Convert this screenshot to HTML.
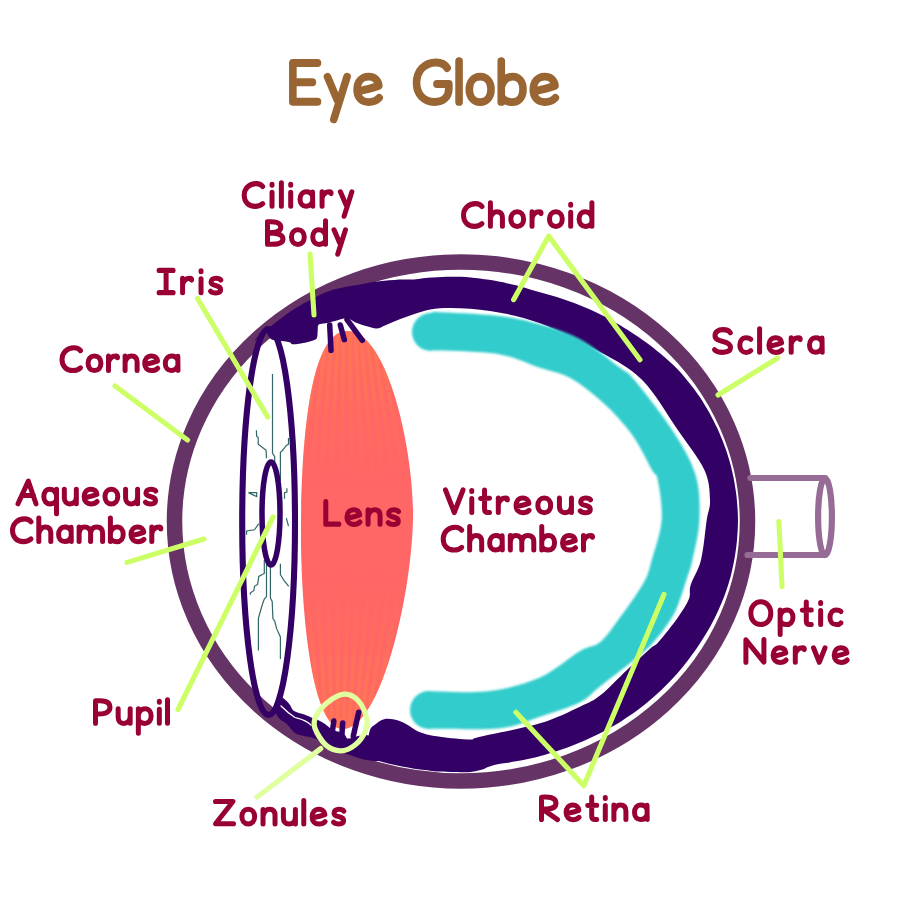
<!DOCTYPE html>
<html><head><meta charset="utf-8"><style>
html,body{margin:0;padding:0;background:#fff;width:900px;height:900px;overflow:hidden}
svg{display:block}
.t{font-family:"Liberation Sans",sans-serif;font-weight:normal;fill:#990033;stroke:#990033;stroke-width:1.9px;stroke-linejoin:round;font-size:39px}
</style></head><body>
<svg width="900" height="900" viewBox="0 0 900 900">
<defs>
<filter id="sblur" x="-20%" y="-20%" width="140%" height="140%"><feGaussianBlur stdDeviation="0.9"/></filter>
<filter id="blur" x="-10%" y="-10%" width="120%" height="120%"><feGaussianBlur stdDeviation="1"/></filter>
<clipPath id="lensclip"><path d="M 347 331 C 390 331, 415 460, 413 520 C 411 600, 380 729, 343 729 C 310 729, 300 600, 301 520 C 302 440, 310 331, 347 331 Z"/></clipPath>
<linearGradient id="lmg" x1="0" y1="331" x2="0" y2="729" gradientUnits="userSpaceOnUse">
<stop offset="0" stop-color="#fff" stop-opacity="0.8"/><stop offset="0.1" stop-color="#fff" stop-opacity="0.7"/><stop offset="0.4" stop-color="#fff" stop-opacity="0"/><stop offset="0.6" stop-color="#fff" stop-opacity="0"/><stop offset="0.9" stop-color="#fff" stop-opacity="0.7"/><stop offset="1" stop-color="#fff" stop-opacity="0.8"/>
</linearGradient>
<mask id="lensmask" maskUnits="userSpaceOnUse" x="250" y="300" width="200" height="460"><rect x="250" y="300" width="200" height="460" fill="url(#lmg)"/></mask>
<linearGradient id="lensg" x1="0" y1="0" x2="0" y2="1">
<stop offset="0" stop-color="#ff7a55"/><stop offset="0.3" stop-color="#ff6a5f"/><stop offset="0.5" stop-color="#ff6666"/><stop offset="0.7" stop-color="#ff6a5f"/><stop offset="1" stop-color="#ff7a55"/>
</linearGradient>
</defs>
<g fill="none" stroke="#996633" stroke-width="4.471" stroke-linecap="round" stroke-linejoin="round"><path transform="translate(288.60 106.3) scale(1.7000 1.7835)" d="M 17 -24.3 L 2.5 -24.3 L 2.5 -2.6 L 17 -2.6 M 2.5 -13.5 L 14 -13.5"/><path transform="translate(323.25 106.3) scale(1.7000 1.7400)" d="M 2.5 -17 L 8.3 -3.5 M 14 -17 L 6.2 7.5"/><path transform="translate(352.80 106.3) scale(1.7000 1.7400)" d="M 3 -8.6 C 7 -9.4 12 -10.6 15.3 -11.8 C 15 -15.3 12.5 -17.1 9.3 -17.1 C 5 -17.1 2.5 -13.8 2.5 -9.5 C 2.5 -5 5.3 -2.4 9.3 -2.4 C 11.8 -2.4 14 -3.2 15.5 -4.8"/></g><g fill="none" stroke="#996633" stroke-width="4.471" stroke-linecap="round" stroke-linejoin="round"><path transform="translate(412.30 106.3) scale(1.7000 1.7835)" d="M 20.5 -21.5 C 19 -23.8 16.5 -24.6 14 -24.6 C 7 -24.6 2.5 -19.6 2.5 -13.2 C 2.5 -6.6 7 -2.4 13 -2.4 C 18 -2.4 21.5 -5 21.5 -10 L 21.5 -12.5 L 14.5 -12.5"/><path transform="translate(454.82 106.3) scale(1.7000 1.7400)" d="M 2.5 -26 L 2.5 -2.5"/><path transform="translate(465.04 106.3) scale(1.7000 1.7400)" d="M 8.9 -17.1 C 12.8 -17.1 15.3 -14 15.3 -9.8 C 15.3 -5.5 12.8 -2.4 8.9 -2.4 C 5 -2.4 2.5 -5.5 2.5 -9.8 C 2.5 -14 5 -17.1 8.9 -17.1 Z"/><path transform="translate(497.02 106.3) scale(1.7000 1.7400)" d="M 2.5 -26 L 2.5 -2.5 M 2.5 -11 C 3.5 -15 6 -17.1 9.3 -17.1 C 13 -17.1 15.3 -14 15.3 -9.7 C 15.3 -5 12.5 -2.4 9 -2.4 C 6 -2.4 3.5 -3.6 2.5 -6"/><path transform="translate(529.00 106.3) scale(1.7000 1.7400)" d="M 3 -8.6 C 7 -9.4 12 -10.6 15.3 -11.8 C 15 -15.3 12.5 -17.1 9.3 -17.1 C 5 -17.1 2.5 -13.8 2.5 -9.5 C 2.5 -5 5.3 -2.4 9.3 -2.4 C 11.8 -2.4 14 -3.2 15.5 -4.8"/></g>
<ellipse cx="461" cy="521.5" rx="286.5" ry="259.5" fill="none" stroke="#663366" stroke-width="15.5"/>
<g fill="none" stroke="#966c96" stroke-width="6.2" stroke-linecap="round">
<line x1="750.5" y1="478" x2="825" y2="478"/>
<line x1="747.5" y1="555" x2="825" y2="555"/>
<ellipse cx="825" cy="516.8" rx="6.9" ry="38.4"/>
</g>
<path d="M 266.0 326.0 C 264.1 328.5 255.3 339.5 254.5 340.9 C 253.8 342.3 259.2 336.5 261.5 334.4 C 263.9 332.2 266.3 330.1 268.8 328.1 C 271.2 326.0 273.7 324.0 276.3 322.0 C 278.8 320.0 281.4 318.1 284.0 316.2 C 286.6 314.3 289.2 312.4 291.9 310.6 C 294.6 308.8 297.4 307.1 300.2 305.4 C 303.0 303.8 305.8 302.2 308.7 300.7 C 311.6 299.2 314.5 297.7 317.4 296.2 C 320.4 294.8 323.3 293.3 326.3 292.0 C 329.4 290.8 332.5 289.8 335.7 288.9 C 338.9 288.1 342.3 287.6 345.6 286.9 C 348.9 286.3 352.2 285.9 355.5 285.3 C 358.7 284.7 361.9 284.0 365.1 283.4 C 368.3 282.8 371.5 282.2 374.8 281.8 C 378.0 281.3 381.2 281.0 384.5 280.7 C 387.7 280.4 391.0 280.1 394.2 279.9 C 397.5 279.8 400.7 279.6 404.0 279.6 C 407.2 279.5 410.5 279.7 413.6 279.5 C 416.8 279.3 419.9 278.7 423.1 278.3 C 426.2 278.0 429.4 277.7 432.5 277.5 C 435.7 277.3 438.9 277.1 442.0 276.9 C 445.2 276.8 448.3 276.7 451.5 276.7 C 454.7 276.7 457.8 276.6 461.0 276.8 C 464.2 276.9 467.3 277.2 470.5 277.5 C 473.6 277.8 476.7 278.1 479.9 278.5 C 483.0 278.9 486.1 279.4 489.2 279.8 C 492.3 280.3 495.4 280.9 498.5 281.5 C 501.6 282.0 504.6 282.7 507.7 283.4 C 510.7 284.0 513.8 284.8 516.8 285.6 C 519.8 286.3 522.8 287.1 525.7 288.0 C 528.7 288.9 531.7 289.9 534.6 290.8 C 537.6 291.6 540.5 292.5 543.5 293.3 C 546.4 294.2 549.4 294.9 552.4 295.8 C 555.3 296.6 558.3 297.5 561.2 298.5 C 564.1 299.4 567.0 300.4 569.9 301.5 C 572.8 302.5 575.7 303.6 578.5 304.8 C 581.4 305.9 584.2 307.1 587.0 308.3 C 589.8 309.5 592.6 310.8 595.4 312.1 C 598.1 313.4 600.9 314.8 603.6 316.1 C 606.4 317.5 609.1 318.9 611.7 320.4 C 614.4 321.9 617.1 323.4 619.7 324.9 C 622.3 326.5 624.9 328.1 627.4 329.7 C 630.0 331.4 632.5 333.1 635.0 334.8 C 637.6 336.5 640.1 338.1 642.6 339.9 C 645.1 341.6 647.5 343.4 650.0 345.2 C 652.4 347.1 654.8 348.9 657.1 350.9 C 659.5 352.8 661.8 354.7 664.1 356.7 C 666.4 358.7 668.6 360.7 670.8 362.8 C 673.0 364.8 675.3 366.9 677.3 369.1 C 679.4 371.3 681.4 373.5 683.4 375.8 C 685.3 378.1 687.2 380.4 689.1 382.7 C 691.0 385.1 692.8 387.4 694.6 389.8 C 696.4 392.2 698.1 394.7 699.8 397.1 C 701.5 399.6 703.0 402.1 704.6 404.7 C 706.1 407.2 707.6 409.8 709.1 412.3 C 710.5 414.9 711.9 417.5 713.3 420.2 C 714.6 422.8 715.9 425.4 717.2 428.1 C 718.4 430.8 719.6 433.5 720.7 436.2 C 721.9 438.9 723.0 441.6 724.0 444.4 C 725.1 447.1 726.0 449.9 727.0 452.7 C 727.9 455.5 728.7 458.3 729.5 461.1 C 730.3 463.9 731.1 466.7 731.7 469.6 C 732.4 472.4 733.0 475.3 733.6 478.1 C 734.2 481.0 734.7 483.9 735.1 486.7 C 735.6 489.6 736.0 492.5 736.4 495.4 C 736.7 498.3 737.0 501.2 737.2 504.1 C 737.5 507.0 737.6 509.9 737.8 512.8 C 737.9 515.7 738.0 518.6 738.0 521.5 C 737.9 524.4 737.8 527.3 737.7 530.2 C 737.5 533.1 737.3 536.0 737.1 538.9 C 736.8 541.8 736.5 544.7 736.2 547.6 C 735.8 550.5 735.4 553.4 734.9 556.2 C 734.4 559.1 733.9 562.0 733.3 564.8 C 732.7 567.7 732.0 570.5 731.4 573.4 C 730.7 576.2 729.9 579.0 729.1 581.8 C 728.3 584.6 727.4 587.4 726.4 590.2 C 725.5 592.9 724.5 595.7 723.4 598.4 C 722.3 601.1 721.2 603.9 720.0 606.5 C 718.9 609.2 717.6 611.9 716.4 614.6 C 715.1 617.2 713.8 619.8 712.4 622.4 C 711.0 625.0 709.6 627.6 708.1 630.2 C 706.6 632.7 705.1 635.3 703.5 637.8 C 702.0 640.3 700.3 642.8 698.7 645.2 C 697.0 647.7 695.4 650.2 693.7 652.6 C 692.0 655.0 690.2 657.4 688.4 659.8 C 686.6 662.2 684.8 664.5 682.9 666.8 C 681.0 669.1 679.0 671.4 677.0 673.7 C 675.1 675.9 673.0 678.1 671.0 680.3 C 668.9 682.5 666.8 684.7 664.6 686.8 C 662.5 688.9 660.3 691.0 658.1 693.1 C 655.8 695.1 653.6 697.1 651.3 699.1 C 649.0 701.1 646.6 703.0 644.2 704.9 C 641.8 706.8 639.4 708.7 637.0 710.5 C 634.5 712.3 632.0 714.1 629.4 715.8 C 626.9 717.5 624.3 719.2 621.7 720.9 C 619.1 722.5 616.5 724.1 613.8 725.7 C 611.1 727.2 608.4 728.7 605.7 730.2 C 603.0 731.7 600.2 733.1 597.5 734.5 C 594.7 735.9 591.9 737.2 589.0 738.5 C 586.2 739.8 583.4 741.1 580.5 742.3 C 577.7 743.5 574.8 744.7 571.9 745.8 C 569.0 747.0 566.0 748.1 563.1 749.1 C 560.1 750.1 557.1 751.1 554.2 752.1 C 551.2 753.0 548.2 753.9 545.1 754.8 C 542.1 755.6 539.1 756.4 536.0 757.2 C 533.0 757.9 529.9 758.6 526.8 759.3 C 523.7 760.0 520.7 760.6 517.5 761.1 C 514.4 761.7 511.3 762.2 508.2 762.7 C 505.1 763.1 501.9 763.3 498.8 763.9 C 495.7 764.5 492.7 765.4 489.6 766.4 C 486.5 767.4 483.4 769.2 480.3 770.1 C 477.1 771.1 473.9 771.7 470.7 772.1 C 467.5 772.4 464.2 772.2 461.0 772.2 C 457.8 772.2 454.5 772.2 451.3 772.1 C 448.1 772.0 444.8 771.8 441.6 771.6 C 438.4 771.4 435.2 771.2 432.0 770.9 C 428.8 770.6 425.5 770.2 422.3 769.8 C 419.1 769.4 416.0 768.9 412.8 768.4 C 409.6 767.9 406.4 767.4 403.3 766.8 C 400.1 766.2 396.9 765.5 393.8 764.8 C 390.7 764.1 387.5 763.3 384.4 762.5 C 381.3 761.7 376.7 760.4 375.2 760.0 L 368 740 C 368.3 738.3 369.0 732.4 370.0 730.0 C 371.0 727.6 371.3 727.4 373.8 725.6 C 376.3 723.8 380.3 719.6 385.0 719.0 C 389.7 718.4 396.2 719.8 402.0 722.0 C 407.8 724.2 413.7 729.8 420.0 732.2 C 426.3 734.7 431.7 735.5 440.0 736.7 C 448.3 737.9 463.3 739.4 470.0 739.4 C 476.7 739.4 468.3 739.4 480.0 736.7 C 491.7 734.0 523.3 728.3 540.0 723.3 C 556.7 718.3 570.0 711.3 580.0 706.7 C 590.0 702.1 592.2 701.7 600.0 695.6 C 607.8 689.5 618.4 678.0 626.7 670.2 C 635.0 662.4 644.5 653.6 649.8 648.9 C 655.1 644.2 654.0 647.1 658.7 641.8 C 663.4 636.5 673.2 624.0 678.2 616.9 C 683.2 609.8 686.8 604.3 688.9 599.0 C 691.0 593.7 688.7 591.4 690.7 584.9 C 692.7 578.4 698.3 570.8 701.0 560.0 C 703.7 549.2 705.2 530.0 706.7 520.0 C 708.2 510.0 710.4 508.3 710.0 500.0 C 709.6 491.7 709.8 481.7 704.4 470.0 C 699.0 458.3 688.2 445.0 677.8 430.0 C 667.4 415.0 655.2 393.0 642.2 380.0 C 629.2 367.0 617.0 361.4 600.0 352.0 C 583.0 342.6 558.3 330.1 540.0 323.3 C 521.7 316.5 506.7 313.5 490.0 311.0 C 473.3 308.5 453.9 307.4 440.0 308.3 C 426.1 309.2 415.7 313.9 406.7 316.7 C 397.7 319.5 390.9 323.0 386.0 325.0 C 381.1 327.0 380.3 328.3 377.0 328.5 C 373.7 328.7 369.7 327.0 366.0 326.0 C 362.3 325.0 358.2 323.6 355.0 322.3 C 351.8 321.0 350.3 318.5 347.0 318.3 C 343.7 318.1 338.3 320.2 335.0 321.0 C 331.7 321.8 329.2 322.6 327.0 323.0 C 324.8 323.4 323.1 323.4 321.7 323.7 C 320.2 324.0 319.0 323.9 318.3 325.0 C 317.6 326.1 317.9 328.2 317.7 330.3 C 317.5 332.4 317.7 336.0 317.0 337.7 C 316.3 339.4 315.4 339.5 313.7 340.3 C 312.0 341.1 309.4 341.7 307.0 342.3 C 304.6 342.9 301.4 343.4 299.0 343.7 C 296.6 344.0 293.9 344.5 292.3 344.3 C 290.8 344.1 291.5 342.9 289.7 342.3 C 287.9 341.8 284.6 341.4 281.7 341.0 C 278.8 340.6 274.5 340.6 272.3 339.7 C 270.1 338.8 269.4 337.5 268.3 335.7 C 267.2 333.9 266.4 330.1 266.0 329.0 Z" fill="#330066"/>
<path d="M 431.0 313.0 C 432.5 312.9 428.5 311.7 440.0 312.2 C 451.5 312.7 483.3 314.0 500.0 316.0 C 516.7 318.0 526.7 320.6 540.0 324.4 C 553.3 328.2 566.7 331.7 580.0 338.9 C 593.3 346.1 610.9 360.9 620.0 367.8 C 629.1 374.7 625.7 369.6 634.4 380.0 C 643.1 390.4 662.0 414.2 672.2 430.0 C 682.4 445.8 691.1 460.0 695.6 475.0 C 700.1 490.0 699.9 505.8 699.4 520.0 C 698.9 534.2 694.4 550.4 692.4 560.0 C 690.4 569.6 689.5 570.4 687.1 577.8 C 684.7 585.2 680.9 597.6 678.2 604.4 C 675.5 611.2 674.7 613.1 671.1 618.7 C 667.5 624.3 662.1 632.2 656.9 638.2 C 651.7 644.2 649.5 647.0 640.0 655.0 C 630.5 663.0 610.0 678.6 600.0 686.5 C 590.0 694.4 590.0 697.2 580.0 702.2 C 570.0 707.2 553.3 712.4 540.0 716.7 C 526.7 721.1 516.7 726.3 500.0 728.3 C 483.3 730.3 451.8 728.7 440.0 728.8 C 428.2 728.9 430.8 729.0 429.0 729.0 A 19 19 0 0 1 429 691 C 430.8 691.1 429.8 691.4 440.0 691.4 C 450.2 691.4 473.3 693.4 490.0 691.1 C 506.7 688.8 525.0 684.2 540.0 677.5 C 555.0 670.8 570.0 656.9 580.0 651.0 C 590.0 645.1 593.7 647.3 600.0 642.2 C 606.3 637.1 611.9 628.2 617.8 620.4 C 623.7 612.6 630.9 602.7 635.6 595.6 C 640.3 588.5 643.5 583.7 646.2 577.8 C 648.9 571.9 649.2 569.6 651.8 560.0 C 654.4 550.4 660.7 533.3 661.7 520.0 C 662.7 506.7 659.4 488.3 657.8 480.0 C 656.2 471.7 655.7 476.7 652.0 470.0 C 648.3 463.3 640.9 448.3 635.6 440.0 C 630.3 431.7 625.9 426.7 620.0 420.0 C 614.1 413.3 608.3 407.0 600.0 400.0 C 591.7 393.0 580.0 383.2 570.0 377.8 C 560.0 372.4 551.7 371.7 540.0 367.8 C 528.3 363.9 516.7 357.3 500.0 354.4 C 483.3 351.5 451.5 351.2 440.0 350.6 C 428.5 350.0 432.5 350.9 431.0 351.0 A 19 19 0 0 1 431 313 Z" fill="#33cccc" filter="url(#blur)"/>
<path d="M 347 331 C 390 331, 415 460, 413 520 C 411 600, 380 729, 343 729 C 310 729, 300 600, 301 520 C 302 440, 310 331, 347 331 Z" fill="#ff6666"/>
<g clip-path="url(#lensclip)" mask="url(#lensmask)" stroke="#ff8048" stroke-width="3.2" fill="none" filter="url(#sblur)"><path d="M 314.0 310 Q 288.0 430 263.0 560"/><path d="M 308.0 750 Q 283.0 630 261.0 500"/><path d="M 319.0 310 Q 297.0 430 276.0 560"/><path d="M 313.0 750 Q 292.0 630 274.0 500"/><path d="M 324.0 310 Q 306.0 430 289.0 560"/><path d="M 318.0 750 Q 301.0 630 287.0 500"/><path d="M 329.0 310 Q 315.0 430 302.0 560"/><path d="M 323.0 750 Q 310.0 630 300.0 500"/><path d="M 334.0 310 Q 324.0 430 315.0 560"/><path d="M 328.0 750 Q 319.0 630 313.0 500"/><path d="M 339.0 310 Q 333.0 430 328.0 560"/><path d="M 333.0 750 Q 328.0 630 326.0 500"/><path d="M 344.0 310 Q 342.0 430 341.0 560"/><path d="M 338.0 750 Q 337.0 630 339.0 500"/><path d="M 349.0 310 Q 351.0 430 354.0 560"/><path d="M 343.0 750 Q 346.0 630 352.0 500"/><path d="M 354.0 310 Q 360.0 430 367.0 560"/><path d="M 348.0 750 Q 355.0 630 365.0 500"/><path d="M 359.0 310 Q 369.0 430 380.0 560"/><path d="M 353.0 750 Q 364.0 630 378.0 500"/><path d="M 364.0 310 Q 378.0 430 393.0 560"/><path d="M 358.0 750 Q 373.0 630 391.0 500"/><path d="M 369.0 310 Q 387.0 430 406.0 560"/><path d="M 363.0 750 Q 382.0 630 404.0 500"/><path d="M 374.0 310 Q 396.0 430 419.0 560"/><path d="M 368.0 750 Q 391.0 630 417.0 500"/><path d="M 379.0 310 Q 405.0 430 432.0 560"/><path d="M 373.0 750 Q 400.0 630 430.0 500"/><path d="M 384.0 310 Q 414.0 430 445.0 560"/><path d="M 378.0 750 Q 409.0 630 443.0 500"/></g>
<g fill="none" stroke="#336666" stroke-width="1.2" stroke-linejoin="miter">
<polyline points="272.5,374 272.5,453.4 274.7,456.5 274.7,464.4"/>
<polyline points="256.4,430.2 256.6,436.3 258.2,437.5 258.2,444.2 266.1,450.4 266.5,458.3"/>
<polyline points="288.5,438.1 288.5,444.2 286.3,445.5 284.5,447.9 282,451 280.4,452.2 280.4,481"/>
<polyline points="248.4,492.6 256.7,492.6 256.7,496.6 248.4,492.6"/>
<polyline points="286.9,488.3 286.9,492 284.5,492.6 284.5,498.7"/>
<polyline points="286.3,518.2 288.5,526.2"/>
<polyline points="258.8,523.7 254.5,529.8 246.6,531 246.6,534.7"/>
<polyline points="264.3,560 264.3,573.4 258.8,576.5 257.6,584.4 254.5,586.3 253.9,590.5 250.3,593 250.3,594.8"/>
<polyline points="266.5,563.7 266.5,596.6 264.3,599.1 262.5,604 260,612.5 258.4,618.6 258.4,650.4"/>
<polyline points="270.4,566.1 270.4,597.9 272.2,601.5 272.9,618.6 274.7,621 276.5,628.4 280.4,636.9 280.4,658.9"/>
<polyline points="280.4,563.7 280.4,574.7 283.8,580.1 288.7,586.3"/>
</g>
<ellipse cx="268.6" cy="522" rx="26.4" ry="193" fill="none" stroke="#330066" stroke-width="6.1"/>
<ellipse cx="271" cy="513.5" rx="9" ry="51.5" fill="none" stroke="#330066" stroke-width="5.5"/>
<g fill="none" stroke="#330066" stroke-width="5.5" stroke-linecap="round" stroke-linejoin="round">
<line x1="329.7" y1="325" x2="331" y2="350.3"/>
<line x1="340.3" y1="325" x2="344.3" y2="339.7"/>
<line x1="347" y1="319.7" x2="362.3" y2="340.3"/>
<polyline points="318.7,725.6 331.1,732.7"/>
<line x1="333.8" y1="721.1" x2="332" y2="734.4"/>
<line x1="342.7" y1="722.9" x2="341.8" y2="736.2"/>
<line x1="358.7" y1="712.2" x2="353.3" y2="736.2"/>
</g>
<path d="M 276.0 700.0 C 276.8 697.3 279.3 696.9 281.0 697.0 C 282.7 697.1 284.5 699.2 286.0 700.5 C 287.5 701.8 288.7 703.2 290.0 705.0 C 291.3 706.8 291.6 709.4 294.0 711.0 C 296.4 712.6 301.3 713.4 304.4 714.6 C 307.5 715.8 310.1 717.2 312.4 718.1 C 314.7 719.0 315.9 719.0 318.0 720.0 C 320.1 721.0 322.5 722.3 325.0 724.0 C 327.5 725.7 329.7 728.2 333.0 730.0 C 336.3 731.8 342.2 731.3 345.0 735.0 C 347.8 738.7 350.8 749.8 350.0 752.0 C 349.2 754.2 344.2 749.7 340.0 748.0 C 335.8 746.3 329.7 743.8 325.0 742.0 C 320.3 740.2 315.5 738.6 311.6 737.5 C 307.7 736.4 304.6 736.3 301.8 735.5 C 299.0 734.7 297.2 734.7 294.7 732.8 C 292.2 730.9 289.1 726.2 286.7 724.0 C 284.3 721.8 282.2 721.3 280.4 719.5 C 278.6 717.7 276.7 716.2 276.0 713.0 C 275.3 709.8 275.2 702.7 276.0 700.0 Z" fill="#330066"/>
<path d="M 281 706 C 284 709, 288 713, 295 717.5 C 300 719, 306 720, 311 725" fill="none" stroke="#fff" stroke-width="1.3" stroke-linecap="round"/>
<path d="M 316.0 727.0 C 317.8 726.5 321.5 730.5 324.0 732.0 C 326.5 733.5 328.7 735.1 331.0 736.0 C 333.3 736.9 335.7 737.1 338.0 737.5 C 340.3 737.9 342.7 738.4 345.0 738.5 C 347.3 738.6 349.8 738.4 352.0 738.0 C 354.2 737.6 355.7 736.5 358.0 736.0 C 360.3 735.5 363.7 734.7 366.0 735.0 C 368.3 735.3 370.0 735.8 372.0 738.0 C 374.0 740.2 376.3 744.3 378.0 748.0 C 379.7 751.7 384.0 758.0 382.0 760.0 C 380.0 762.0 371.3 760.8 366.0 760.0 C 360.7 759.2 355.2 756.7 350.0 755.0 C 344.8 753.3 339.7 752.0 335.0 750.0 C 330.3 748.0 325.7 745.5 322.0 743.0 C 318.3 740.5 314.0 737.7 313.0 735.0 C 312.0 732.3 314.2 727.5 316.0 727.0 Z" fill="#330066"/>
<g fill="none" stroke="#990033" stroke-width="5.000" stroke-linecap="round" stroke-linejoin="round"><path transform="translate(241.70 208.8) scale(1.0000 1.0250)" d="M 21 -21.8 C 19.5 -23.8 17 -24.6 14.5 -24.6 C 7.5 -24.6 2.5 -19.6 2.5 -13.2 C 2.5 -6.6 7 -2.4 13.5 -2.4 C 16.5 -2.4 19.3 -3.4 21 -5"/><path transform="translate(269.53 208.8) scale(1.0000 1.0000)" d="M 2.5 -16.5 L 2.5 -2.5 M 2.5 -24.6 L 2.5 -23.6"/><path transform="translate(278.87 208.8) scale(1.0000 1.0000)" d="M 2.5 -26 L 2.5 -2.5"/><path transform="translate(288.20 208.8) scale(1.0000 1.0000)" d="M 2.5 -16.5 L 2.5 -2.5 M 2.5 -24.6 L 2.5 -23.6"/><path transform="translate(297.53 208.8) scale(1.0000 1.0000)" d="M 15 -16.8 L 15.2 -2.6 M 14.8 -13.5 C 13.5 -16 11.5 -17.1 9 -17.1 C 5 -17.1 2.5 -13.8 2.5 -9.6 C 2.5 -5.2 5 -2.5 8.5 -2.5 C 11.8 -2.5 14 -4.5 15 -7.5"/><path transform="translate(319.57 208.8) scale(1.0000 1.0000)" d="M 2.5 -17 L 2.5 -2.5 M 2.5 -10.5 C 3.5 -15 6.5 -17.1 9.8 -17.1 C 11 -17.1 11.8 -16.6 11.5 -15.2"/><path transform="translate(337.90 208.8) scale(1.0000 1.0000)" d="M 2.5 -17 L 8.3 -3.5 M 14 -17 L 6.2 7.5"/></g>
<g fill="none" stroke="#990033" stroke-width="5.000" stroke-linecap="round" stroke-linejoin="round"><path transform="translate(265.00 246.8) scale(1.0000 1.0250)" d="M 2.5 -24.3 L 2.5 -2.6 M 2.5 -24.3 C 9 -24.8 15.8 -24.3 15.8 -19 C 15.8 -15 12 -13.6 3.5 -13.6 M 3.5 -13.6 C 12.5 -13.6 18 -12 18 -7.5 C 18 -2.5 10.5 -2.3 2.5 -2.6"/><path transform="translate(288.97 246.8) scale(1.0000 1.0000)" d="M 8.9 -17.1 C 12.8 -17.1 15.3 -14 15.3 -9.8 C 15.3 -5.5 12.8 -2.4 8.9 -2.4 C 5 -2.4 2.5 -5.5 2.5 -9.8 C 2.5 -14 5 -17.1 8.9 -17.1 Z"/><path transform="translate(310.23 246.8) scale(1.0000 1.0000)" d="M 15.3 -26 L 15.3 -2.5 M 15.3 -11 C 14.3 -15 11.8 -17.1 8.5 -17.1 C 4.8 -17.1 2.5 -14 2.5 -9.7 C 2.5 -5 5.3 -2.4 8.8 -2.4 C 11.8 -2.4 14.3 -3.6 15.3 -6"/><path transform="translate(331.50 246.8) scale(1.0000 1.0000)" d="M 2.5 -17 L 8.3 -3.5 M 14 -17 L 6.2 7.5"/></g>
<g fill="none" stroke="#990033" stroke-width="5.000" stroke-linecap="round" stroke-linejoin="round"><path transform="translate(156.60 295.3) scale(1.0000 1.0250)" d="M 2.5 -24.3 L 16.5 -24.3 M 9.5 -24.3 L 9.5 -2.6 M 2.5 -2.6 L 16.5 -2.6"/><path transform="translate(180.07 295.3) scale(1.0000 1.0000)" d="M 2.5 -17 L 2.5 -2.5 M 2.5 -10.5 C 3.5 -15 6.5 -17.1 9.8 -17.1 C 11 -17.1 11.8 -16.6 11.5 -15.2"/><path transform="translate(198.53 295.3) scale(1.0000 1.0000)" d="M 2.5 -16.5 L 2.5 -2.5 M 2.5 -24.6 L 2.5 -23.6"/><path transform="translate(208.00 295.3) scale(1.0000 1.0000)" d="M 12.8 -15.3 C 11.8 -16.7 10 -17.1 8 -17.1 C 5 -17.1 3 -15.6 3 -13.2 C 3 -10.6 5.8 -10.2 8.3 -9.6 C 11.2 -9 12.6 -7.6 12.6 -5.6 C 12.6 -3.5 10.8 -2.4 7.8 -2.4 C 5.4 -2.4 3.5 -3 2.5 -4.2"/></g>
<g fill="none" stroke="#990033" stroke-width="5.000" stroke-linecap="round" stroke-linejoin="round"><path transform="translate(59.50 373.0) scale(1.0000 1.0250)" d="M 21 -21.8 C 19.5 -23.8 17 -24.6 14.5 -24.6 C 7.5 -24.6 2.5 -19.6 2.5 -13.2 C 2.5 -6.6 7 -2.4 13.5 -2.4 C 16.5 -2.4 19.3 -3.4 21 -5"/><path transform="translate(85.60 373.0) scale(1.0000 1.0000)" d="M 8.9 -17.1 C 12.8 -17.1 15.3 -14 15.3 -9.8 C 15.3 -5.5 12.8 -2.4 8.9 -2.4 C 5 -2.4 2.5 -5.5 2.5 -9.8 C 2.5 -14 5 -17.1 8.9 -17.1 Z"/><path transform="translate(106.00 373.0) scale(1.0000 1.0000)" d="M 2.5 -17 L 2.5 -2.5 M 2.5 -10.5 C 3.5 -15 6.5 -17.1 9.8 -17.1 C 11 -17.1 11.8 -16.6 11.5 -15.2"/><path transform="translate(122.60 373.0) scale(1.0000 1.0000)" d="M 2.5 -17 L 2.5 -2.5 M 2.5 -10.5 C 3.5 -14.8 6 -17.1 9 -17.1 C 12.5 -17.1 14.5 -15 14.5 -11 L 14.5 -2.5"/><path transform="translate(142.20 373.0) scale(1.0000 1.0000)" d="M 3 -8.6 C 7 -9.4 12 -10.6 15.3 -11.8 C 15 -15.3 12.5 -17.1 9.3 -17.1 C 5 -17.1 2.5 -13.8 2.5 -9.5 C 2.5 -5 5.3 -2.4 9.3 -2.4 C 11.8 -2.4 14 -3.2 15.5 -4.8"/><path transform="translate(162.80 373.0) scale(1.0000 1.0000)" d="M 15 -16.8 L 15.2 -2.6 M 14.8 -13.5 C 13.5 -16 11.5 -17.1 9 -17.1 C 5 -17.1 2.5 -13.8 2.5 -9.6 C 2.5 -5.2 5 -2.5 8.5 -2.5 C 11.8 -2.5 14 -4.5 15 -7.5"/></g>
<g fill="none" stroke="#990033" stroke-width="5.000" stroke-linecap="round" stroke-linejoin="round"><path transform="translate(15.50 506.3) scale(1.0000 1.0250)" d="M 2.5 -2.5 L 12.8 -24.6 L 20.5 -2.5 M 6.3 -10.5 L 18 -10.8"/><path transform="translate(41.32 506.3) scale(1.0000 1.0000)" d="M 15.2 -17 L 15.2 7.5 M 15.2 -11 C 14.2 -15 11.7 -17.1 8.4 -17.1 C 4.7 -17.1 2.5 -14 2.5 -9.7 C 2.5 -5 5.2 -2.4 8.7 -2.4 C 11.7 -2.4 14.2 -3.6 15.2 -6"/><path transform="translate(61.83 506.3) scale(1.0000 1.0000)" d="M 2.5 -17 L 2.5 -8.5 C 2.5 -4.5 4.8 -2.4 8 -2.4 C 11.5 -2.4 14.5 -5 14.5 -9.5 M 14.5 -17 L 14.5 -2.5"/><path transform="translate(81.65 506.3) scale(1.0000 1.0000)" d="M 3 -8.6 C 7 -9.4 12 -10.6 15.3 -11.8 C 15 -15.3 12.5 -17.1 9.3 -17.1 C 5 -17.1 2.5 -13.8 2.5 -9.5 C 2.5 -5 5.3 -2.4 9.3 -2.4 C 11.8 -2.4 14 -3.2 15.5 -4.8"/><path transform="translate(102.47 506.3) scale(1.0000 1.0000)" d="M 8.9 -17.1 C 12.8 -17.1 15.3 -14 15.3 -9.8 C 15.3 -5.5 12.8 -2.4 8.9 -2.4 C 5 -2.4 2.5 -5.5 2.5 -9.8 C 2.5 -14 5 -17.1 8.9 -17.1 Z"/><path transform="translate(123.08 506.3) scale(1.0000 1.0000)" d="M 2.5 -17 L 2.5 -8.5 C 2.5 -4.5 4.8 -2.4 8 -2.4 C 11.5 -2.4 14.5 -5 14.5 -9.5 M 14.5 -17 L 14.5 -2.5"/><path transform="translate(142.90 506.3) scale(1.0000 1.0000)" d="M 12.8 -15.3 C 11.8 -16.7 10 -17.1 8 -17.1 C 5 -17.1 3 -15.6 3 -13.2 C 3 -10.6 5.8 -10.2 8.3 -9.6 C 11.2 -9 12.6 -7.6 12.6 -5.6 C 12.6 -3.5 10.8 -2.4 7.8 -2.4 C 5.4 -2.4 3.5 -3 2.5 -4.2"/></g>
<g fill="none" stroke="#990033" stroke-width="5.000" stroke-linecap="round" stroke-linejoin="round"><path transform="translate(10.00 544.0999999999999) scale(1.0000 1.0250)" d="M 21 -21.8 C 19.5 -23.8 17 -24.6 14.5 -24.6 C 7.5 -24.6 2.5 -19.6 2.5 -13.2 C 2.5 -6.6 7 -2.4 13.5 -2.4 C 16.5 -2.4 19.3 -3.4 21 -5"/><path transform="translate(36.30 544.0999999999999) scale(1.0000 1.0000)" d="M 2.5 -26 L 2.5 -2.5 M 2.5 -10.5 C 3.5 -14.8 6 -17.1 9 -17.1 C 12.5 -17.1 14.5 -15 14.5 -11 L 14.5 -2.5"/><path transform="translate(56.10 544.0999999999999) scale(1.0000 1.0000)" d="M 15 -16.8 L 15.2 -2.6 M 14.8 -13.5 C 13.5 -16 11.5 -17.1 9 -17.1 C 5 -17.1 2.5 -13.8 2.5 -9.6 C 2.5 -5.2 5 -2.5 8.5 -2.5 C 11.8 -2.5 14 -4.5 15 -7.5"/><path transform="translate(76.60 544.0999999999999) scale(1.0000 1.0000)" d="M 2.5 -17 L 2.5 -2.5 M 2.5 -10.5 C 3 -14.8 5 -17 8 -17 C 11.5 -17 14 -15 14 -11 L 14 -2.5 M 14 -11 C 14.5 -15 17 -17 20 -17 C 24 -17 26 -15 26 -11 L 26 -2.5"/><path transform="translate(107.90 544.0999999999999) scale(1.0000 1.0000)" d="M 2.5 -26 L 2.5 -2.5 M 2.5 -11 C 3.5 -15 6 -17.1 9.3 -17.1 C 13 -17.1 15.3 -14 15.3 -9.7 C 15.3 -5 12.5 -2.4 9 -2.4 C 6 -2.4 3.5 -3.6 2.5 -6"/><path transform="translate(128.50 544.0999999999999) scale(1.0000 1.0000)" d="M 3 -8.6 C 7 -9.4 12 -10.6 15.3 -11.8 C 15 -15.3 12.5 -17.1 9.3 -17.1 C 5 -17.1 2.5 -13.8 2.5 -9.5 C 2.5 -5 5.3 -2.4 9.3 -2.4 C 11.8 -2.4 14 -3.2 15.5 -4.8"/><path transform="translate(149.30 544.0999999999999) scale(1.0000 1.0000)" d="M 2.5 -17 L 2.5 -2.5 M 2.5 -10.5 C 3.5 -15 6.5 -17.1 9.8 -17.1 C 11 -17.1 11.8 -16.6 11.5 -15.2"/></g>
<g fill="none" stroke="#990033" stroke-width="5.000" stroke-linecap="round" stroke-linejoin="round"><path transform="translate(93.00 725.8) scale(1.0000 1.0250)" d="M 2.5 -2.5 L 2.5 -24.3 C 10 -24.8 17 -24.3 17 -18 C 17 -12 10 -11.3 2.5 -11.5"/><path transform="translate(115.67 725.8) scale(1.0000 1.0000)" d="M 2.5 -17 L 2.5 -8.5 C 2.5 -4.5 4.8 -2.4 8 -2.4 C 11.5 -2.4 14.5 -5 14.5 -9.5 M 14.5 -17 L 14.5 -2.5"/><path transform="translate(135.85 725.8) scale(1.0000 1.0000)" d="M 2.5 -17 L 2.5 7.5 M 2.5 -11 C 3.5 -15 6 -17.1 9.3 -17.1 C 13 -17.1 15.3 -14 15.3 -9.7 C 15.3 -5 12.5 -2.4 9 -2.4 C 6 -2.4 3.5 -3.6 2.5 -6"/><path transform="translate(156.82 725.8) scale(1.0000 1.0000)" d="M 2.5 -16.5 L 2.5 -2.5 M 2.5 -24.6 L 2.5 -23.6"/><path transform="translate(165.00 725.8) scale(1.0000 1.0000)" d="M 2.5 -26 L 2.5 -2.5"/></g>
<g fill="none" stroke="#990033" stroke-width="5.000" stroke-linecap="round" stroke-linejoin="round"><path transform="translate(213.00 826.4) scale(1.0000 1.0250)" d="M 2.5 -24.3 L 20 -24.3 L 2.5 -2.6 L 20.5 -2.6"/><path transform="translate(239.37 826.4) scale(1.0000 1.0000)" d="M 8.9 -17.1 C 12.8 -17.1 15.3 -14 15.3 -9.8 C 15.3 -5.5 12.8 -2.4 8.9 -2.4 C 5 -2.4 2.5 -5.5 2.5 -9.8 C 2.5 -14 5 -17.1 8.9 -17.1 Z"/><path transform="translate(260.53 826.4) scale(1.0000 1.0000)" d="M 2.5 -17 L 2.5 -2.5 M 2.5 -10.5 C 3.5 -14.8 6 -17.1 9 -17.1 C 12.5 -17.1 14.5 -15 14.5 -11 L 14.5 -2.5"/><path transform="translate(280.90 826.4) scale(1.0000 1.0000)" d="M 2.5 -17 L 2.5 -8.5 C 2.5 -4.5 4.8 -2.4 8 -2.4 C 11.5 -2.4 14.5 -5 14.5 -9.5 M 14.5 -17 L 14.5 -2.5"/><path transform="translate(301.27 826.4) scale(1.0000 1.0000)" d="M 2.5 -26 L 2.5 -2.5"/><path transform="translate(309.63 826.4) scale(1.0000 1.0000)" d="M 3 -8.6 C 7 -9.4 12 -10.6 15.3 -11.8 C 15 -15.3 12.5 -17.1 9.3 -17.1 C 5 -17.1 2.5 -13.8 2.5 -9.5 C 2.5 -5 5.3 -2.4 9.3 -2.4 C 11.8 -2.4 14 -3.2 15.5 -4.8"/><path transform="translate(331.00 826.4) scale(1.0000 1.0000)" d="M 12.8 -15.3 C 11.8 -16.7 10 -17.1 8 -17.1 C 5 -17.1 3 -15.6 3 -13.2 C 3 -10.6 5.8 -10.2 8.3 -9.6 C 11.2 -9 12.6 -7.6 12.6 -5.6 C 12.6 -3.5 10.8 -2.4 7.8 -2.4 C 5.4 -2.4 3.5 -3 2.5 -4.2"/></g>
<g fill="none" stroke="#990033" stroke-width="5.000" stroke-linecap="round" stroke-linejoin="round"><path transform="translate(323.30 526.8) scale(1.0000 1.0250)" d="M 2.5 -24.5 L 2.5 -2.6 L 15.5 -2.6"/><path transform="translate(344.43 526.8) scale(1.0000 1.0000)" d="M 3 -8.6 C 7 -9.4 12 -10.6 15.3 -11.8 C 15 -15.3 12.5 -17.1 9.3 -17.1 C 5 -17.1 2.5 -13.8 2.5 -9.5 C 2.5 -5 5.3 -2.4 9.3 -2.4 C 11.8 -2.4 14 -3.2 15.5 -4.8"/><path transform="translate(365.57 526.8) scale(1.0000 1.0000)" d="M 2.5 -17 L 2.5 -2.5 M 2.5 -10.5 C 3.5 -14.8 6 -17.1 9 -17.1 C 12.5 -17.1 14.5 -15 14.5 -11 L 14.5 -2.5"/><path transform="translate(385.70 526.8) scale(1.0000 1.0000)" d="M 12.8 -15.3 C 11.8 -16.7 10 -17.1 8 -17.1 C 5 -17.1 3 -15.6 3 -13.2 C 3 -10.6 5.8 -10.2 8.3 -9.6 C 11.2 -9 12.6 -7.6 12.6 -5.6 C 12.6 -3.5 10.8 -2.4 7.8 -2.4 C 5.4 -2.4 3.5 -3 2.5 -4.2"/></g>
<g fill="none" stroke="#990033" stroke-width="5.000" stroke-linecap="round" stroke-linejoin="round"><path transform="translate(443.00 515.0999999999999) scale(1.0000 1.0250)" d="M 2.5 -24.5 L 11.3 -2.5 L 20 -24.5"/><path transform="translate(469.27 515.0999999999999) scale(1.0000 1.0000)" d="M 2.5 -16.5 L 2.5 -2.5 M 2.5 -24.6 L 2.5 -23.6"/><path transform="translate(478.04 515.0999999999999) scale(1.0000 1.0000)" d="M 6.5 -25 L 6.5 -6 C 6.5 -3.5 7.5 -2.5 10 -2.5 L 11.5 -2.6 M 2.5 -16.7 L 11.5 -16.9"/><path transform="translate(495.81 515.0999999999999) scale(1.0000 1.0000)" d="M 2.5 -17 L 2.5 -2.5 M 2.5 -10.5 C 3.5 -15 6.5 -17.1 9.8 -17.1 C 11 -17.1 11.8 -16.6 11.5 -15.2"/><path transform="translate(513.59 515.0999999999999) scale(1.0000 1.0000)" d="M 3 -8.6 C 7 -9.4 12 -10.6 15.3 -11.8 C 15 -15.3 12.5 -17.1 9.3 -17.1 C 5 -17.1 2.5 -13.8 2.5 -9.5 C 2.5 -5 5.3 -2.4 9.3 -2.4 C 11.8 -2.4 14 -3.2 15.5 -4.8"/><path transform="translate(535.36 515.0999999999999) scale(1.0000 1.0000)" d="M 8.9 -17.1 C 12.8 -17.1 15.3 -14 15.3 -9.8 C 15.3 -5.5 12.8 -2.4 8.9 -2.4 C 5 -2.4 2.5 -5.5 2.5 -9.8 C 2.5 -14 5 -17.1 8.9 -17.1 Z"/><path transform="translate(556.93 515.0999999999999) scale(1.0000 1.0000)" d="M 2.5 -17 L 2.5 -8.5 C 2.5 -4.5 4.8 -2.4 8 -2.4 C 11.5 -2.4 14.5 -5 14.5 -9.5 M 14.5 -17 L 14.5 -2.5"/><path transform="translate(577.70 515.0999999999999) scale(1.0000 1.0000)" d="M 12.8 -15.3 C 11.8 -16.7 10 -17.1 8 -17.1 C 5 -17.1 3 -15.6 3 -13.2 C 3 -10.6 5.8 -10.2 8.3 -9.6 C 11.2 -9 12.6 -7.6 12.6 -5.6 C 12.6 -3.5 10.8 -2.4 7.8 -2.4 C 5.4 -2.4 3.5 -3 2.5 -4.2"/></g>
<g fill="none" stroke="#990033" stroke-width="5.000" stroke-linecap="round" stroke-linejoin="round"><path transform="translate(440.70 552.5) scale(1.0000 1.0250)" d="M 21 -21.8 C 19.5 -23.8 17 -24.6 14.5 -24.6 C 7.5 -24.6 2.5 -19.6 2.5 -13.2 C 2.5 -6.6 7 -2.4 13.5 -2.4 C 16.5 -2.4 19.3 -3.4 21 -5"/><path transform="translate(467.17 552.5) scale(1.0000 1.0000)" d="M 2.5 -26 L 2.5 -2.5 M 2.5 -10.5 C 3.5 -14.8 6 -17.1 9 -17.1 C 12.5 -17.1 14.5 -15 14.5 -11 L 14.5 -2.5"/><path transform="translate(487.13 552.5) scale(1.0000 1.0000)" d="M 15 -16.8 L 15.2 -2.6 M 14.8 -13.5 C 13.5 -16 11.5 -17.1 9 -17.1 C 5 -17.1 2.5 -13.8 2.5 -9.6 C 2.5 -5.2 5 -2.5 8.5 -2.5 C 11.8 -2.5 14 -4.5 15 -7.5"/><path transform="translate(507.80 552.5) scale(1.0000 1.0000)" d="M 2.5 -17 L 2.5 -2.5 M 2.5 -10.5 C 3 -14.8 5 -17 8 -17 C 11.5 -17 14 -15 14 -11 L 14 -2.5 M 14 -11 C 14.5 -15 17 -17 20 -17 C 24 -17 26 -15 26 -11 L 26 -2.5"/><path transform="translate(539.27 552.5) scale(1.0000 1.0000)" d="M 2.5 -26 L 2.5 -2.5 M 2.5 -11 C 3.5 -15 6 -17.1 9.3 -17.1 C 13 -17.1 15.3 -14 15.3 -9.7 C 15.3 -5 12.5 -2.4 9 -2.4 C 6 -2.4 3.5 -3.6 2.5 -6"/><path transform="translate(560.03 552.5) scale(1.0000 1.0000)" d="M 3 -8.6 C 7 -9.4 12 -10.6 15.3 -11.8 C 15 -15.3 12.5 -17.1 9.3 -17.1 C 5 -17.1 2.5 -13.8 2.5 -9.5 C 2.5 -5 5.3 -2.4 9.3 -2.4 C 11.8 -2.4 14 -3.2 15.5 -4.8"/><path transform="translate(581.00 552.5) scale(1.0000 1.0000)" d="M 2.5 -17 L 2.5 -2.5 M 2.5 -10.5 C 3.5 -15 6.5 -17.1 9.8 -17.1 C 11 -17.1 11.8 -16.6 11.5 -15.2"/></g>
<g fill="none" stroke="#990033" stroke-width="5.000" stroke-linecap="round" stroke-linejoin="round"><path transform="translate(461.00 228.8) scale(1.0000 1.0250)" d="M 21 -21.8 C 19.5 -23.8 17 -24.6 14.5 -24.6 C 7.5 -24.6 2.5 -19.6 2.5 -13.2 C 2.5 -6.6 7 -2.4 13.5 -2.4 C 16.5 -2.4 19.3 -3.4 21 -5"/><path transform="translate(487.92 228.8) scale(1.0000 1.0000)" d="M 2.5 -26 L 2.5 -2.5 M 2.5 -10.5 C 3.5 -14.8 6 -17.1 9 -17.1 C 12.5 -17.1 14.5 -15 14.5 -11 L 14.5 -2.5"/><path transform="translate(508.33 228.8) scale(1.0000 1.0000)" d="M 8.9 -17.1 C 12.8 -17.1 15.3 -14 15.3 -9.8 C 15.3 -5.5 12.8 -2.4 8.9 -2.4 C 5 -2.4 2.5 -5.5 2.5 -9.8 C 2.5 -14 5 -17.1 8.9 -17.1 Z"/><path transform="translate(529.55 228.8) scale(1.0000 1.0000)" d="M 2.5 -17 L 2.5 -2.5 M 2.5 -10.5 C 3.5 -15 6.5 -17.1 9.8 -17.1 C 11 -17.1 11.8 -16.6 11.5 -15.2"/><path transform="translate(546.97 228.8) scale(1.0000 1.0000)" d="M 8.9 -17.1 C 12.8 -17.1 15.3 -14 15.3 -9.8 C 15.3 -5.5 12.8 -2.4 8.9 -2.4 C 5 -2.4 2.5 -5.5 2.5 -9.8 C 2.5 -14 5 -17.1 8.9 -17.1 Z"/><path transform="translate(568.18 228.8) scale(1.0000 1.0000)" d="M 2.5 -16.5 L 2.5 -2.5 M 2.5 -24.6 L 2.5 -23.6"/><path transform="translate(576.60 228.8) scale(1.0000 1.0000)" d="M 15.3 -26 L 15.3 -2.5 M 15.3 -11 C 14.3 -15 11.8 -17.1 8.5 -17.1 C 4.8 -17.1 2.5 -14 2.5 -9.7 C 2.5 -5 5.3 -2.4 8.8 -2.4 C 11.8 -2.4 14.3 -3.6 15.3 -6"/></g>
<g fill="none" stroke="#990033" stroke-width="5.000" stroke-linecap="round" stroke-linejoin="round"><path transform="translate(712.00 354.8) scale(1.0000 1.0250)" d="M 18.3 -21.5 C 17 -23.8 14 -24.6 11 -24.6 C 6 -24.6 3 -22 3 -18.5 C 3 -15 6.5 -14 10.8 -13 C 15.3 -12 18.5 -10.6 18.5 -7 C 18.5 -3.6 14.8 -2.4 10.5 -2.4 C 7 -2.4 4.2 -3.2 2.5 -5"/><path transform="translate(737.30 354.8) scale(1.0000 1.0000)" d="M 13.5 -15.5 C 12.2 -16.8 10.5 -17.1 8.8 -17.1 C 5 -17.1 2.5 -14 2.5 -9.6 C 2.5 -5.2 5 -2.4 8.8 -2.4 C 10.8 -2.4 12.5 -3 13.5 -4.2"/><path transform="translate(757.10 354.8) scale(1.0000 1.0000)" d="M 2.5 -26 L 2.5 -2.5"/><path transform="translate(766.40 354.8) scale(1.0000 1.0000)" d="M 3 -8.6 C 7 -9.4 12 -10.6 15.3 -11.8 C 15 -15.3 12.5 -17.1 9.3 -17.1 C 5 -17.1 2.5 -13.8 2.5 -9.5 C 2.5 -5 5.3 -2.4 9.3 -2.4 C 11.8 -2.4 14 -3.2 15.5 -4.8"/><path transform="translate(788.70 354.8) scale(1.0000 1.0000)" d="M 2.5 -17 L 2.5 -2.5 M 2.5 -10.5 C 3.5 -15 6.5 -17.1 9.8 -17.1 C 11 -17.1 11.8 -16.6 11.5 -15.2"/><path transform="translate(807.00 354.8) scale(1.0000 1.0000)" d="M 15 -16.8 L 15.2 -2.6 M 14.8 -13.5 C 13.5 -16 11.5 -17.1 9 -17.1 C 5 -17.1 2.5 -13.8 2.5 -9.6 C 2.5 -5.2 5 -2.5 8.5 -2.5 C 11.8 -2.5 14 -4.5 15 -7.5"/></g>
<g fill="none" stroke="#990033" stroke-width="5.000" stroke-linecap="round" stroke-linejoin="round"><path transform="translate(748.30 627.0) scale(1.0000 1.0250)" d="M 12.5 -24.6 C 18.5 -24.6 22.5 -19.6 22.5 -13.5 C 22.5 -7 18.5 -2.4 12.5 -2.4 C 6.5 -2.4 2.5 -7 2.5 -13.5 C 2.5 -19.6 6.5 -24.6 12.5 -24.6 Z"/><path transform="translate(777.65 627.0) scale(1.0000 1.0000)" d="M 2.5 -17 L 2.5 7.5 M 2.5 -11 C 3.5 -15 6 -17.1 9.3 -17.1 C 13 -17.1 15.3 -14 15.3 -9.7 C 15.3 -5 12.5 -2.4 9 -2.4 C 6 -2.4 3.5 -3.6 2.5 -6"/><path transform="translate(799.80 627.0) scale(1.0000 1.0000)" d="M 6.5 -25 L 6.5 -6 C 6.5 -3.5 7.5 -2.5 10 -2.5 L 11.5 -2.6 M 2.5 -16.7 L 11.5 -16.9"/><path transform="translate(818.15 627.0) scale(1.0000 1.0000)" d="M 2.5 -16.5 L 2.5 -2.5 M 2.5 -24.6 L 2.5 -23.6"/><path transform="translate(827.50 627.0) scale(1.0000 1.0000)" d="M 13.5 -15.5 C 12.2 -16.8 10.5 -17.1 8.8 -17.1 C 5 -17.1 2.5 -14 2.5 -9.6 C 2.5 -5.2 5 -2.4 8.8 -2.4 C 10.8 -2.4 12.5 -3 13.5 -4.2"/></g>
<g fill="none" stroke="#990033" stroke-width="5.000" stroke-linecap="round" stroke-linejoin="round"><path transform="translate(743.40 664.8) scale(1.0000 1.0250)" d="M 2.5 -2.5 L 2.5 -24.3 L 20.5 -2.6 L 20.5 -24.5"/><path transform="translate(770.60 664.8) scale(1.0000 1.0000)" d="M 3 -8.6 C 7 -9.4 12 -10.6 15.3 -11.8 C 15 -15.3 12.5 -17.1 9.3 -17.1 C 5 -17.1 2.5 -13.8 2.5 -9.5 C 2.5 -5 5.3 -2.4 9.3 -2.4 C 11.8 -2.4 14 -3.2 15.5 -4.8"/><path transform="translate(792.80 664.8) scale(1.0000 1.0000)" d="M 2.5 -17 L 2.5 -2.5 M 2.5 -10.5 C 3.5 -15 6.5 -17.1 9.8 -17.1 C 11 -17.1 11.8 -16.6 11.5 -15.2"/><path transform="translate(811.00 664.8) scale(1.0000 1.0000)" d="M 2.5 -17 L 8.3 -2.5 L 14 -17"/><path transform="translate(831.70 664.8) scale(1.0000 1.0000)" d="M 3 -8.6 C 7 -9.4 12 -10.6 15.3 -11.8 C 15 -15.3 12.5 -17.1 9.3 -17.1 C 5 -17.1 2.5 -13.8 2.5 -9.5 C 2.5 -5 5.3 -2.4 9.3 -2.4 C 11.8 -2.4 14 -3.2 15.5 -4.8"/></g>
<g fill="none" stroke="#990033" stroke-width="5.000" stroke-linecap="round" stroke-linejoin="round"><path transform="translate(539.00 822.0999999999999) scale(1.0000 1.0250)" d="M 2.5 -2.5 L 2.5 -24.3 C 10 -24.8 17 -24.3 17 -18.5 C 17 -13 10.5 -12.6 3.5 -12.6 L 18.5 -2.5"/><path transform="translate(563.60 822.0999999999999) scale(1.0000 1.0000)" d="M 3 -8.6 C 7 -9.4 12 -10.6 15.3 -11.8 C 15 -15.3 12.5 -17.1 9.3 -17.1 C 5 -17.1 2.5 -13.8 2.5 -9.5 C 2.5 -5 5.3 -2.4 9.3 -2.4 C 11.8 -2.4 14 -3.2 15.5 -4.8"/><path transform="translate(585.20 822.0999999999999) scale(1.0000 1.0000)" d="M 6.5 -25 L 6.5 -6 C 6.5 -3.5 7.5 -2.5 10 -2.5 L 11.5 -2.6 M 2.5 -16.7 L 11.5 -16.9"/><path transform="translate(602.80 822.0999999999999) scale(1.0000 1.0000)" d="M 2.5 -16.5 L 2.5 -2.5 M 2.5 -24.6 L 2.5 -23.6"/><path transform="translate(611.40 822.0999999999999) scale(1.0000 1.0000)" d="M 2.5 -17 L 2.5 -2.5 M 2.5 -10.5 C 3.5 -14.8 6 -17.1 9 -17.1 C 12.5 -17.1 14.5 -15 14.5 -11 L 14.5 -2.5"/><path transform="translate(632.00 822.0999999999999) scale(1.0000 1.0000)" d="M 15 -16.8 L 15.2 -2.6 M 14.8 -13.5 C 13.5 -16 11.5 -17.1 9 -17.1 C 5 -17.1 2.5 -13.8 2.5 -9.6 C 2.5 -5.2 5 -2.5 8.5 -2.5 C 11.8 -2.5 14 -4.5 15 -7.5"/></g>

<g fill="none" stroke="#ccff66" stroke-width="5.1" stroke-linecap="round" stroke-linejoin="round">
<line x1="310" y1="254" x2="314" y2="315"/>
<line x1="197.5" y1="298.5" x2="267.7" y2="417"/>
<line x1="115" y1="386" x2="187.5" y2="440"/>
<line x1="127" y1="562.4" x2="204" y2="539"/>
<line x1="178" y1="709.5" x2="273" y2="517"/>
<polyline points="513.6,299.7 548.7,236 640,359.7"/>
<line x1="777.6" y1="358" x2="718" y2="395"/>
<line x1="778.9" y1="521.6" x2="782" y2="586.6"/>
<polyline points="515.9,712.3 583.8,785.7 664,594.4"/>
</g>
<g fill="none" stroke="#e0ff9f" stroke-width="5.3" stroke-linecap="round">
<line x1="257" y1="797" x2="320.7" y2="748.6"/>
<path d="M 344.2 694.2 C 349.3 693.9 354.6 696.8 358.3 700.8 C 362.1 704.8 365.6 713.1 366.7 718.3 C 367.8 723.4 366.9 727.2 365.0 731.7 C 363.1 736.2 359.0 741.8 355.0 745.0 C 351.0 748.2 345.7 750.8 340.8 750.8 C 335.9 750.8 330.1 748.8 325.8 745.0 C 321.5 741.2 316.7 733.0 315.0 728.3 C 313.3 723.6 313.7 721.0 315.8 716.7 C 317.9 712.4 322.8 706.2 327.5 702.5 C 332.2 698.8 339.1 694.5 344.2 694.2 Z"/>
</g>
</svg>
</body></html>
